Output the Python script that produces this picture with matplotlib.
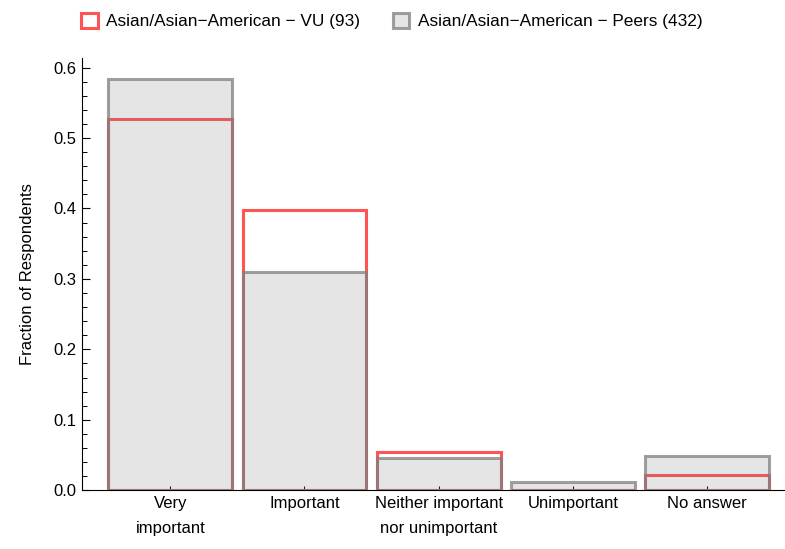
import numpy as np
import matplotlib
matplotlib.use("Agg")
import matplotlib.pyplot as plt
from matplotlib.patches import Patch
from matplotlib.ticker import MultipleLocator

matplotlib.rc('font', family=['Liberation Sans', 'DejaVu Sans'], size=12)

# data
categories = ["Very\nimportant", "Important", "Neither important\nnor unimportant",
              "Unimportant", "No answer"]
vu_frac = [49/93, 37/93, 5/93, 0/93, 2/93]
peer_frac = [252/432, 134/432, 20/432, 5/432, 21/432]
vu_label = "Asian/Asian\u2212American \u2212 VU (93)"
peer_label = "Asian/Asian\u2212American \u2212 Peers (432)"

red = (1.0, 0.33, 0.33)
grey_edge = (0.5, 0.5, 0.5, 0.75)
grey_fill = (0.5, 0.5, 0.5, 0.2)

fig = plt.figure(figsize=(7.85, 5.49), dpi=100)
ax = fig.add_axes([0.105, 0.107, 0.895, 0.788])

x = np.arange(1, len(categories) + 1)
w = 0.924

# VU bars (outline only), peers drawn on top with translucent fill
ax.bar(x, vu_frac, width=w, facecolor='none', edgecolor=red, linewidth=2.2, zorder=2)
ax.bar(x, peer_frac, width=w, facecolor=grey_fill, edgecolor=grey_edge, linewidth=2.2, zorder=3)

ax.set_xlim(0.345, 5.581)
ax.set_ylim(0, 0.614)

for s in ['top', 'right']:
    ax.spines[s].set_visible(False)
ax.spines['left'].set_linewidth(0.8)
ax.spines['bottom'].set_linewidth(0.8)

ax.yaxis.set_major_locator(MultipleLocator(0.1))
ax.yaxis.set_minor_locator(MultipleLocator(0.02))
ax.yaxis.set_major_formatter(matplotlib.ticker.FormatStrFormatter('%.1f'))
ax.tick_params(axis='y', which='major', direction='in', length=6, width=0.8, pad=4)
ax.tick_params(axis='y', which='minor', direction='in', length=3.5, width=0.7)
ax.set_xticks(x)
ax.set_xticklabels(categories, linespacing=1.85)
ax.tick_params(axis='x', direction='in', length=3, width=0.8, pad=4)
for t in ax.get_xticklines():
    t.set_zorder(5)

ax.set_ylabel("Fraction of Respondents", labelpad=13.5)

handles = [Patch(facecolor='white', edgecolor=red, linewidth=2.2, label=vu_label),
           Patch(facecolor=grey_fill, edgecolor=grey_edge, linewidth=2.2, label=peer_label)]
fig.legend(handles=handles, loc='upper left', bbox_to_anchor=(0.087, 1.0), ncol=2,
           frameon=False, handlelength=0.95, handleheight=0.95, handletextpad=0.5,
           columnspacing=1.9, borderaxespad=0.35, prop={'size': 12.4})

fig.savefig("out.png", dpi=100)
